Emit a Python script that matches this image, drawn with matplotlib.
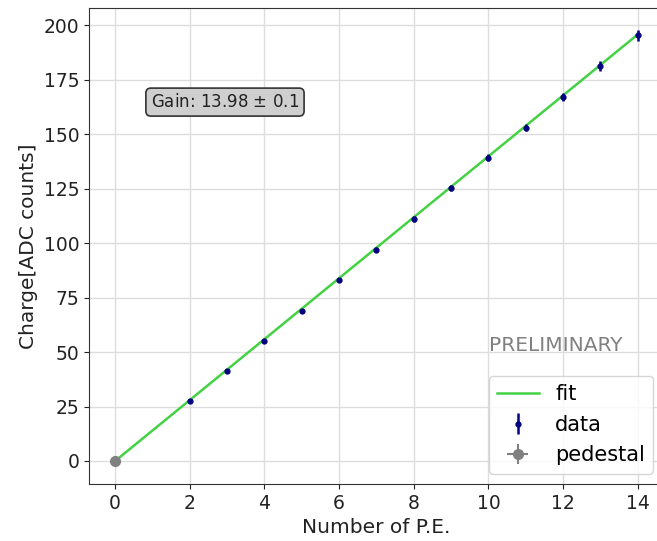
import matplotlib
matplotlib.use("Agg")
import matplotlib.pyplot as plt
import numpy as np

# Calibration points: number of photo-electrons vs. mean charge
n_pe = [2, 3, 4, 5, 6, 7, 8, 9, 10, 11, 12, 13, 14]
charge = [27.5, 41.2, 55.0, 69.0, 83.0, 97.0, 111.0, 125.2, 139.2, 153.0, 167.0, 181.3, 195.3]
charge_err = [0.6, 0.7, 0.8, 0.9, 1.0, 1.2, 1.3, 1.5, 1.6, 1.8, 2.0, 2.3, 2.6]

# Pedestal point
ped_x = [0]
ped_y = [0.0]
ped_xerr = [0.0]
ped_yerr = [0.3]

# Linear fit result
gain = 13.98
gain_err = 0.1
offset = 0.0
fit_x = np.array([0, 14])

fig = plt.figure(figsize=(6.57, 5.41), dpi=100)
ax = fig.add_axes([0.1355, 0.1054, 0.875, 0.8796])

ax.plot(fit_x, gain * fit_x + offset, color="#44d244", lw=1.8, label="fit", zorder=2)
ax.errorbar(n_pe, charge, yerr=charge_err, fmt="o", color="navy", ms=3.5,
            elinewidth=1.8, capsize=0, label="data", zorder=3)
ax.errorbar(ped_x, ped_y, xerr=ped_xerr, yerr=ped_yerr, fmt="o", color="gray",
            ms=7, elinewidth=1.5, label="pedestal", zorder=4)

ax.set_xlim(-0.7, 14.7)
ax.set_ylim(-10.55, 207.8)
ax.set_xticks(range(0, 15, 2))
ax.set_yticks(range(0, 201, 25))
ax.grid(True, color="#dddddd", lw=1)
ax.set_axisbelow(True)

for s in ax.spines.values():
    s.set_color("#333333")
ax.tick_params(labelsize=13.5, colors="#222222")

ax.set_xlabel("Number of P.E.", fontsize=14.5, color="#222222")
ax.set_ylabel("Charge[ADC counts]", fontsize=14.5, color="#222222")

ax.text(0.2365, 0.8025, f"Gain: {gain} $\\pm$ {gain_err}", transform=ax.transAxes,
        fontsize=12, ha="center", va="center", color="#222222",
        bbox=dict(boxstyle="round,pad=0.3", fc="#cfcfcf", ec="#333333", lw=1.2))
ax.text(0.696, 0.292, "PRELIMINARY", transform=ax.transAxes, fontsize=14.5,
        color="gray", ha="left", va="center")

ax.legend(loc="lower right", fontsize=15, framealpha=0.8)

fig.savefig("out.png", dpi=100)
